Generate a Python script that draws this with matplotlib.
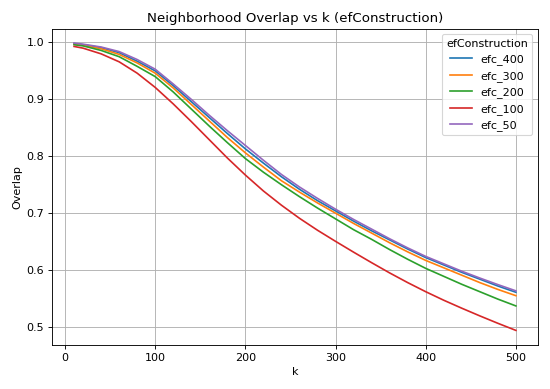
import numpy as np
import matplotlib
matplotlib.use("Agg")
import matplotlib.pyplot as plt

k = [10, 20, 40, 60, 80, 100, 120, 140, 160, 180, 200, 220, 240, 260, 280,
     300, 320, 340, 360, 380, 400, 420, 440, 460, 480, 500]
efc_400 = [0.998, 0.996, 0.991, 0.982, 0.967, 0.950, 0.924, 0.896, 0.868, 0.840, 0.813,
           0.788, 0.764, 0.742, 0.722, 0.704, 0.686, 0.669, 0.653, 0.637, 0.622,
           0.609, 0.596, 0.584, 0.572, 0.561]
efc_300 = [0.997, 0.995, 0.989, 0.979, 0.964, 0.946, 0.920, 0.891, 0.862, 0.833, 0.806,
           0.781, 0.757, 0.737, 0.718, 0.700, 0.682, 0.665, 0.648, 0.632, 0.617,
           0.604, 0.591, 0.578, 0.566, 0.555]
efc_200 = [0.996, 0.994, 0.986, 0.975, 0.958, 0.940, 0.913, 0.883, 0.853, 0.824, 0.796,
           0.772, 0.750, 0.729, 0.709, 0.690, 0.671, 0.654, 0.636, 0.619, 0.603,
           0.589, 0.575, 0.562, 0.549, 0.537]
efc_100 = [0.993, 0.990, 0.980, 0.966, 0.946, 0.921, 0.892, 0.861, 0.829, 0.797, 0.767,
           0.739, 0.714, 0.691, 0.670, 0.6505, 0.6315, 0.613, 0.595, 0.578, 0.562,
           0.547, 0.533, 0.5195, 0.5065, 0.494]
efc_50 = [0.999, 0.997, 0.992, 0.984, 0.970, 0.953, 0.927, 0.900, 0.872, 0.845, 0.819,
          0.793, 0.768, 0.746, 0.726, 0.707, 0.689, 0.672, 0.655, 0.639, 0.624,
          0.611, 0.598, 0.586, 0.5745, 0.5635]

series = {"efc_400": efc_400, "efc_300": efc_300, "efc_200": efc_200,
          "efc_100": efc_100, "efc_50": efc_50}

fig, ax = plt.subplots(figsize=(6.875, 4.8625), dpi=80)
for name, vals in series.items():
    ax.plot(k, vals, label=name)
ax.set_title("Neighborhood Overlap vs k (efConstruction)")
ax.set_xlabel("k")
ax.set_ylabel("Overlap")
ax.grid(True)
ax.legend(title="efConstruction", loc="upper right")
plt.tight_layout()
plt.savefig("out.png", dpi=80)
